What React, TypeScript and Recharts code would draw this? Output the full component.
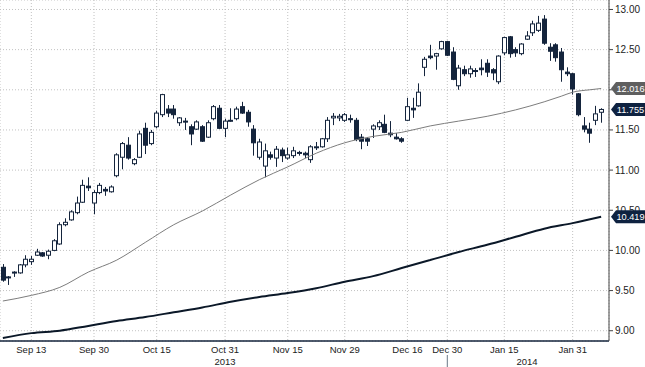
import { ComposedChart, Bar, Line, XAxis, YAxis, CartesianGrid, ReferenceLine } from "recharts";

const DATES = [
  "2013-09-06", "2013-09-09", "2013-09-10", "2013-09-11", "2013-09-12", "2013-09-13", "2013-09-16", "2013-09-17", "2013-09-18", "2013-09-19",
  "2013-09-20", "2013-09-23", "2013-09-24", "2013-09-25", "2013-09-26", "2013-09-27", "2013-09-30",
  "2013-10-01", "2013-10-02", "2013-10-03", "2013-10-04", "2013-10-07", "2013-10-08", "2013-10-09", "2013-10-10", "2013-10-11", "2013-10-14",
  "2013-10-15", "2013-10-16", "2013-10-17", "2013-10-18", "2013-10-21", "2013-10-22", "2013-10-23", "2013-10-24", "2013-10-25", "2013-10-28",
  "2013-10-29", "2013-10-30", "2013-10-31",
  "2013-11-01", "2013-11-04", "2013-11-05", "2013-11-06", "2013-11-07", "2013-11-08", "2013-11-11", "2013-11-12", "2013-11-13", "2013-11-14",
  "2013-11-15", "2013-11-18", "2013-11-19", "2013-11-20", "2013-11-21", "2013-11-22", "2013-11-25", "2013-11-26", "2013-11-27", "2013-11-28",
  "2013-11-29",
  "2013-12-02", "2013-12-03", "2013-12-04", "2013-12-05", "2013-12-06", "2013-12-09", "2013-12-10", "2013-12-11", "2013-12-12", "2013-12-13",
  "2013-12-16", "2013-12-17", "2013-12-18", "2013-12-19", "2013-12-20", "2013-12-23", "2013-12-27", "2013-12-30",
  "2014-01-02", "2014-01-03", "2014-01-06", "2014-01-07", "2014-01-08", "2014-01-09", "2014-01-10", "2014-01-13", "2014-01-14", "2014-01-15",
  "2014-01-16", "2014-01-17", "2014-01-20", "2014-01-21", "2014-01-22", "2014-01-23", "2014-01-24", "2014-01-27", "2014-01-28", "2014-01-29",
  "2014-01-30", "2014-01-31",
  "2014-02-03", "2014-02-04", "2014-02-05", "2014-02-06", "2014-02-07",
];

const OPEN = [
  9.79, 9.67, 9.72, 9.72, 9.82, 9.86, 9.94, 9.97, 9.94, 10.0,
  10.08, 10.32, 10.38, 10.47, 10.6, 10.8, 10.59, 10.72, 10.76, 10.73,
  10.93, 11.16, 11.31, 11.08, 11.16, 11.52, 11.33, 11.54, 11.69, 11.76,
  11.76, 11.59, 11.61, 11.54, 11.51, 11.54, 11.41, 11.64, 11.77, 11.52,
  11.61, 11.64, 11.79, 11.72, 11.51, 11.16, 11.05, 11.19, 11.15, 11.25,
  11.15, 11.18, 11.22, 11.21, 11.13, 11.28, 11.29, 11.39, 11.65, 11.65,
  11.62, 11.64, 11.62, 11.41, 11.39, 11.51, 11.54, 11.57, 11.46, 11.41,
  11.39, 11.62, 11.77, 11.8, 12.28, 12.42, 12.42, 12.51, 12.6, 12.47,
  12.05, 12.25, 12.2, 12.23, 12.27, 12.33, 12.25, 12.1, 12.46, 12.66,
  12.5, 12.45, 12.63, 12.71, 12.74, 12.88, 12.53, 12.56, 12.47, 12.22,
  12.2, 11.95, 11.55, 11.51, 11.62, 11.72,
];

const HIGH = [
  9.83, 9.68, 9.74, 9.83, 9.94, 9.93, 10.02, 9.98, 10.01, 10.14,
  10.35, 10.4, 10.5, 10.67, 10.88, 10.91, 10.75, 10.84, 10.79, 10.81,
  11.21, 11.35, 11.41, 11.15, 11.49, 11.59, 11.5, 11.74, 11.95, 11.81,
  11.81, 11.66, 11.65, 11.57, 11.62, 11.56, 11.62, 11.81, 11.81, 11.64,
  11.77, 11.79, 11.85, 11.75, 11.56, 11.39, 11.33, 11.23, 11.3, 11.28,
  11.28, 11.29, 11.24, 11.23, 11.31, 11.35, 11.4, 11.66, 11.71, 11.7,
  11.71, 11.69, 11.65, 11.45, 11.41, 11.57, 11.62, 11.69, 11.61, 11.46,
  11.41, 11.9, 11.9, 12.08, 12.41, 12.56, 12.46, 12.61, 12.61, 12.53,
  12.31, 12.3, 12.3, 12.27, 12.38, 12.38, 12.27, 12.43, 12.66, 12.67,
  12.53, 12.58, 12.73, 12.86, 12.92, 12.93, 12.58, 12.58, 12.52, 12.28,
  12.21, 11.96, 11.66, 11.59, 11.8, 11.77,
];

const LOW = [
  9.61, 9.57, 9.67, 9.71, 9.79, 9.82, 9.93, 9.92, 9.89, 9.99,
  10.07, 10.3, 10.37, 10.45, 10.59, 10.74, 10.45, 10.7, 10.68, 10.72,
  10.91, 11.01, 11.13, 11.06, 11.15, 11.2, 11.31, 11.52, 11.66, 11.66,
  11.64, 11.55, 11.5, 11.31, 11.5, 11.35, 11.4, 11.62, 11.51, 11.41,
  11.6, 11.62, 11.7, 11.54, 11.18, 11.13, 10.91, 11.13, 11.04, 11.1,
  11.13, 11.15, 11.18, 11.15, 11.09, 11.25, 11.28, 11.35, 11.56, 11.61,
  11.6, 11.59, 11.36, 11.26, 11.3, 11.4, 11.5, 11.46, 11.41, 11.38,
  11.34, 11.61, 11.65, 11.79, 12.17, 12.38, 12.25, 12.5, 12.42, 12.12,
  12.0, 12.17, 12.15, 12.16, 12.18, 12.16, 12.12, 12.07, 12.43, 12.4,
  12.41, 12.43, 12.62, 12.67, 12.72, 12.56, 12.36, 12.35, 12.1, 12.17,
  11.94, 11.67, 11.47, 11.34, 11.56, 11.59,
];

const CLOSE = [
  9.63, 9.66, 9.73, 9.82, 9.89, 9.89, 9.98, 9.93, 9.99, 10.12,
  10.32, 10.35, 10.48, 10.59, 10.81, 10.78, 10.72, 10.81, 10.74, 10.79,
  11.19, 11.33, 11.15, 11.13, 11.45, 11.31, 11.47, 11.71, 11.94, 11.71,
  11.69, 11.65, 11.6, 11.45, 11.6, 11.36, 11.59, 11.79, 11.52, 11.61,
  11.62, 11.76, 11.71, 11.6, 11.34, 11.35, 11.24, 11.16, 11.26, 11.18,
  11.19, 11.24, 11.21, 11.19, 11.29, 11.29, 11.39, 11.62, 11.67, 11.67,
  11.69, 11.63, 11.38, 11.36, 11.36, 11.55, 11.59, 11.47, 11.44, 11.39,
  11.36, 11.79, 11.75, 11.97, 12.38, 12.4, 12.45, 12.6, 12.43, 12.13,
  12.27, 12.2, 12.26, 12.24, 12.25, 12.22, 12.21, 12.42, 12.65, 12.45,
  12.46, 12.57, 12.67, 12.82, 12.83, 12.58, 12.48, 12.4, 12.25, 12.2,
  12.01, 11.69, 11.51, 11.46, 11.7, 11.755,
];

// moving averages at a subset of sessions: [session index, value]
const MA50_POINTS: [number, number][] = [
  [0, 9.37], [5, 9.44], [10, 9.54], [15, 9.73], [20, 9.88], [25, 10.1], [30, 10.32], [35, 10.49],
  [40, 10.69], [45, 10.88], [50, 11.04], [55, 11.21], [60, 11.34], [65, 11.42], [70, 11.47], [75, 11.55],
  [80, 11.61], [85, 11.67], [90, 11.75], [95, 11.85], [98, 11.92], [100, 11.97], [103, 12.0], [105, 12.016],
];
const MA200_POINTS: [number, number][] = [
  [0, 8.91], [5, 8.97], [10, 9.0], [15, 9.06], [20, 9.12], [25, 9.17], [30, 9.23], [35, 9.29],
  [40, 9.36], [45, 9.42], [50, 9.47], [55, 9.53], [60, 9.61], [65, 9.68], [70, 9.78], [75, 9.88],
  [80, 9.98], [85, 10.07], [90, 10.17], [95, 10.27], [100, 10.34], [105, 10.419],
];

const TICK_DATES = [
  "2013-09-13", "2013-09-30", "2013-10-15", "2013-10-31", "2013-11-15",
  "2013-11-29", "2013-12-16", "2013-12-30", "2014-01-15", "2014-01-31",
];
const MINOR_X = [0, 10.5, 21.5, 33, 44.5, 55, 65.5, 83, 94, 105];
const Y_TICKS = [9, 9.5, 10, 10.5, 11, 11.5, 12, 12.5, 13];
const Y_MINOR = [9.25, 9.75, 10.25, 10.75, 11.25, 11.75, 12.25, 12.75];
const Y_DOMAIN = [8.872, 13.118];
const MONTHS = ["Jan", "Feb", "Mar", "Apr", "May", "Jun", "Jul", "Aug", "Sep", "Oct", "Nov", "Dec"];

const FONT = "'Liberation Sans', Arial, sans-serif";
const NAVY = "#14243c";

const ma50 = new Map(MA50_POINTS);
const ma200 = new Map(MA200_POINTS);
const rows = DATES.map((date, i) => ({
  i,
  date,
  open: OPEN[i],
  high: HIGH[i],
  low: LOW[i],
  close: CLOSE[i],
  range: [LOW[i], HIGH[i]],
  ma50: ma50.get(i) ?? null,
  ma200: ma200.get(i) ?? null,
}));
const N = rows.length;

const years = [...new Set(DATES.map((d) => d.slice(0, 4)))];
const yearIdx = years.map((y) => DATES.map((d, i) => (d.startsWith(y) ? i : -1)).filter((i) => i >= 0));
const YEAR_MID = yearIdx.map((ix) => DATES[Math.floor((ix[0] + ix[ix.length - 1]) / 2)]);
const YEAR_SPLIT = DATES[yearIdx[0][yearIdx[0].length - 1]];

const tags = [
  { value: MA50_POINTS[MA50_POINTS.length - 1][1], fill: "#5f5f5f" },
  { value: CLOSE[CLOSE.length - 1], fill: "#0e2240" },
  { value: MA200_POINTS[MA200_POINTS.length - 1][1], fill: "#0e2240" },
];

const fmtDate = (d: string) => `${MONTHS[Number(d.slice(5, 7)) - 1]} ${Number(d.slice(8))}`;

function Candle(props: any) {
  const { x, y, width, height, payload } = props;
  if (!payload || height == null) return null;
  const { open, close, high, low } = payload;
  const top = Math.min(y, y + height);
  const span = Math.abs(height);
  const py = (v: number) => top + ((high - v) / (high - low || 1)) * span;
  const cx = Math.round(x + width / 2) + 0.5;
  const up = close >= open;
  const bTop = py(Math.max(open, close));
  const bBot = py(Math.min(open, close));
  return (
    <g>
      <line x1={cx} x2={cx} y1={top} y2={top + span} stroke={NAVY} strokeWidth={1} />
      <rect
        x={cx - 2}
        y={bTop}
        width={4}
        height={Math.max(bBot - bTop, 1)}
        fill={up ? "#ffffff" : NAVY}
        stroke={NAVY}
        strokeWidth={1}
      />
    </g>
  );
}

function YearTick(props: any) {
  const { x, y, payload } = props;
  if (payload.value === YEAR_SPLIT) {
    return <line x1={x} x2={x} y1={y + 1} y2={y + 13} stroke="#6a7888" strokeWidth={1} />;
  }
  if (!YEAR_MID.includes(payload.value)) return <g />;
  return (
    <text x={x} y={y + 10.5} textAnchor="middle" fontSize={9.5} fontFamily={FONT} fill="#222">
      {String(payload.value).slice(0, 4)}
    </text>
  );
}

// price axis label; the tags on the right sit over the labels they cover
function PriceTick(props: any) {
  const { x, y, payload } = props;
  const v = payload.value as number;
  return (
    <text x={x} y={y + 3.5} fontSize={10} fontFamily={FONT} fill="#222">
      {v.toFixed(2)}
    </text>
  );
}

function makeTag(fill: string, value: number) {
  return (p: any) => {
    const vb = p.viewBox;
    if (!vb) return null;
    const x = vb.x + vb.width;
    const y = vb.y;
    const h = 6.5;
    return (
      <g>
        <polygon
          points={`${x + 2},${y} ${x + 7},${y - h} ${x + 36},${y - h} ${x + 36},${y + h} ${x + 7},${y + h}`}
          fill={fill}
        />
        <text x={x + 21.5} y={y + 3.3} textAnchor="middle" fontSize={9.2} fontFamily={FONT} fill="#ffffff">
          {value.toFixed(3)}
        </text>
      </g>
    );
  };
}

export default function App() {
  return (
    <div style={{ position: "absolute", left: 0, top: 0, width: 645, height: 367, background: "#fff" }}>
      <ComposedChart width={645} height={367} data={rows} margin={{ top: 0, right: 0, bottom: 0, left: 0 }}>
        <XAxis
          xAxisId="minor"
          dataKey="i"
          type="number"
          domain={[-0.5, N - 0.5]}
          allowDataOverflow
          ticks={MINOR_X}
          interval={0}
          height={0}
          axisLine={false}
          tickSize={4}
          tickLine={{ stroke: NAVY }}
          tick={() => <g />}
          padding={{ left: 0, right: 5 }}
        />
        <XAxis
          xAxisId="date"
          dataKey="date"
          ticks={TICK_DATES}
          interval={0}
          tickFormatter={fmtDate}
          tickLine={false}
          tickSize={0}
          tickMargin={5.5}
          height={13}
          axisLine={{ stroke: NAVY, strokeWidth: 1.5 }}
          tick={{ fontSize: 9.5, fill: "#222", fontFamily: FONT }}
          padding={{ left: 0, right: 5 }}
        />
        <XAxis
          xAxisId="year"
          dataKey="date"
          ticks={[...YEAR_MID, YEAR_SPLIT]}
          interval={0}
          tickLine={false}
          axisLine={false}
          tickSize={0}
          tickMargin={0}
          height={13}
          tick={YearTick}
          padding={{ left: 0, right: 5 }}
        />
        <YAxis
          yAxisId="minorY"
          orientation="right"
          width={0}
          type="number"
          domain={Y_DOMAIN}
          allowDataOverflow
          ticks={Y_MINOR}
          interval={0}
          axisLine={false}
          tickSize={4}
          tickLine={{ stroke: "#444" }}
          tick={() => <g />}
        />
        <YAxis
          yAxisId="price"
          orientation="right"
          width={36}
          type="number"
          domain={Y_DOMAIN}
          allowDataOverflow
          ticks={Y_TICKS}
          interval={0}
          tickSize={4}
          tickMargin={2}
          axisLine={{ stroke: "#444" }}
          tickLine={{ stroke: "#444" }}
          tick={PriceTick}
        />
        <CartesianGrid xAxisId="date" yAxisId="price" stroke="#c2c2c2" strokeDasharray="1 2" />
        <Bar xAxisId="date" yAxisId="price" dataKey="range" barSize={5} shape={Candle} isAnimationActive={false} />
        <Line
          xAxisId="date"
          yAxisId="price"
          dataKey="ma50"
          type="monotone"
          stroke="#7d7d7d"
          strokeWidth={1}
          dot={false}
          activeDot={false}
          connectNulls
          isAnimationActive={false}
        />
        <Line
          xAxisId="date"
          yAxisId="price"
          dataKey="ma200"
          type="monotone"
          stroke="#0b1828"
          strokeWidth={2}
          dot={false}
          activeDot={false}
          connectNulls
          isAnimationActive={false}
        />
        {tags.map((t) => (
          <ReferenceLine
            key={t.value}
            xAxisId="date"
            yAxisId="price"
            y={t.value}
            stroke="none"
            zIndex={2000}
            label={makeTag(t.fill, t.value)}
          />
        ))}
      </ComposedChart>
    </div>
  );
}
